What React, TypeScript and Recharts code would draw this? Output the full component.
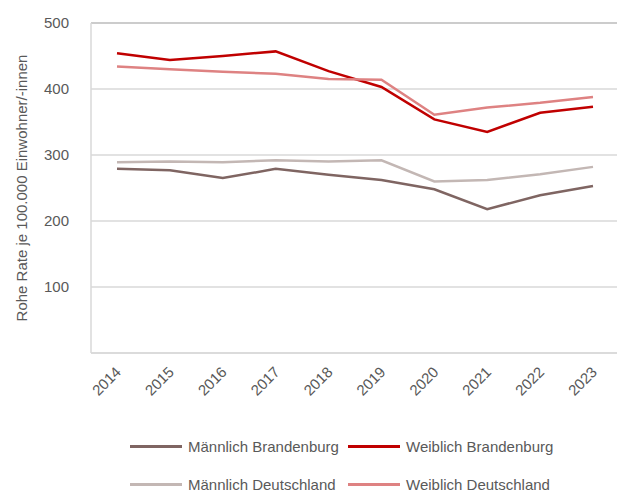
import { CartesianGrid, Line, LineChart, ReferenceLine, XAxis, YAxis } from "recharts";

const years = ["2014", "2015", "2016", "2017", "2018", "2019", "2020", "2021", "2022", "2023"];
const maennlichBrandenburg = [279, 277, 265, 279, 270, 262, 248, 218, 239, 253];
const weiblichBrandenburg = [454, 444, 450, 457, 427, 403, 354, 335, 364, 373];
const maennlichDeutschland = [289, 290, 289, 292, 290, 292, 260, 262, 271, 282];
const weiblichDeutschland = [434, 430, 426, 423, 415, 414, 361, 372, 379, 388];
const yTicks = [0, 100, 200, 300, 400, 500];

const series = [
  { key: "mb", name: "Männlich Brandenburg", color: "#7F6562", values: maennlichBrandenburg },
  { key: "wb", name: "Weiblich Brandenburg", color: "#C00000", values: weiblichBrandenburg },
  { key: "md", name: "Männlich Deutschland", color: "#C3B7B4", values: maennlichDeutschland },
  { key: "wd", name: "Weiblich Deutschland", color: "#DE8282", values: weiblichDeutschland },
];

const data = years.map((year, i) => {
  const row: any = { year };
  series.forEach((s) => (row[s.key] = s.values[i]));
  return row;
});

const font = "'Liberation Sans', Arial, sans-serif";
const textColor = "#595959";
const gridColor = "#D9D9D9";

const YearTick = (props: any) => {
  const { x, y, payload } = props;
  return (
    <text
      x={x + 5}
      y={y + 12}
      transform={`rotate(-45, ${x + 5}, ${y + 12})`}
      textAnchor="end"
      fontSize={15}
      fill={textColor}
      fontFamily={font}
    >
      {payload.value}
    </text>
  );
};

const ValueTick = (props: any) => {
  const { x, y, payload } = props;
  if (payload.value === 0) return null;
  return (
    <text x={x - 14} y={y + 5} textAnchor="end" fontSize={15} fill={textColor} fontFamily={font}>
      {payload.value}
    </text>
  );
};

const legendRows = [
  [series[0], series[1]],
  [series[2], series[3]],
];

export default function App() {
  return (
    <div style={{ position: "absolute", left: 0, top: 0, width: 617, height: 492, overflow: "hidden", background: "#fff" }}>
      <LineChart width={625} height={492} data={data} margin={{ top: 23, right: 5, bottom: 89, left: 0 }}>
        <CartesianGrid horizontal vertical={false} stroke={gridColor} strokeWidth={1.5} />
        <ReferenceLine y={500} stroke="#C4C4C4" strokeWidth={1.5} />
        <XAxis
          dataKey="year"
          axisLine={{ stroke: gridColor, strokeWidth: 1.5 }}
          tickLine={false}
          tick={<YearTick />}
          interval={0}
          height={50}
          padding={{ left: 26, right: 27 }}
        />
        <YAxis
          domain={[0, 500]}
          ticks={yTicks}
          width={91}
          axisLine={{ stroke: gridColor, strokeWidth: 1.5 }}
          tickLine={false}
          tick={<ValueTick />}
          label={{
            value: "Rohe Rate je 100.000 Einwohner/-innen",
            angle: -90,
            position: "insideLeft",
            dx: 17,
            dy: 0,
            style: { textAnchor: "middle", fontSize: 15, fill: textColor, fontFamily: font },
          }}
        />
        {series.map((s) => (
          <Line
            key={s.key}
            dataKey={s.key}
            name={s.name}
            stroke={s.color}
            strokeWidth={2.5}
            dot={false}
            isAnimationActive={false}
          />
        ))}
      </LineChart>
      {legendRows.map((row, r) => (
        <div key={r} style={{ position: "absolute", top: 436 + r * 38, left: 0, fontFamily: font, fontSize: 15, color: textColor }}>
          {row.map((s, c) => (
            <div key={s.key} style={{ position: "absolute", left: 130 + c * 218, top: 0, display: "flex", alignItems: "center", whiteSpace: "nowrap", height: 20 }}>
              <div style={{ width: 52, height: 3, background: s.color, marginRight: 6 }} />
              <span>{s.name}</span>
            </div>
          ))}
        </div>
      ))}
    </div>
  );
}
